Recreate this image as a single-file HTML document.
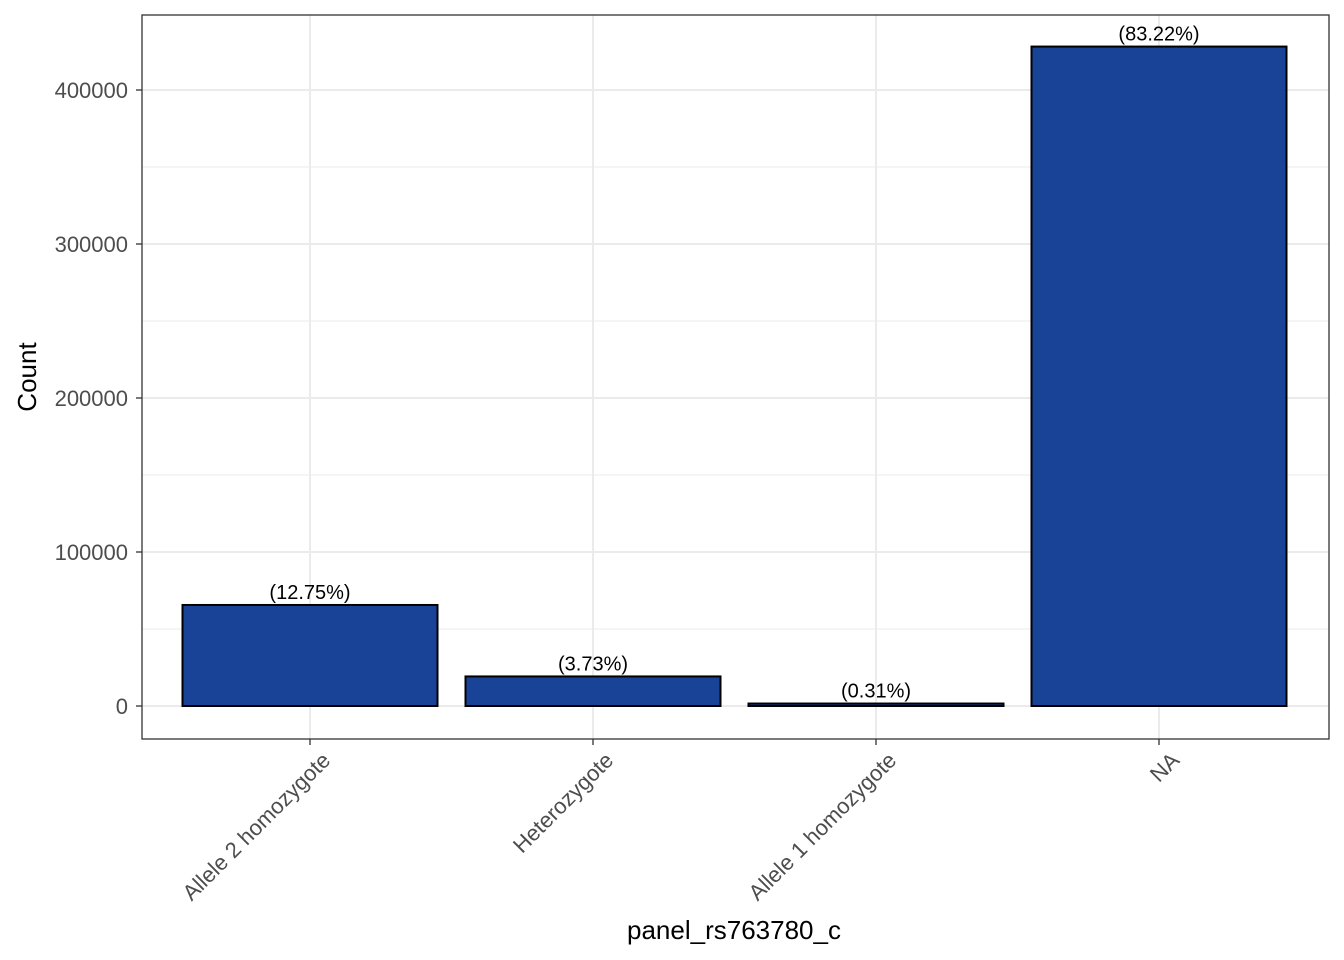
<!DOCTYPE html>
<html><head><meta charset="utf-8"><style>
body{margin:0;background:#fff}
svg{display:block;font-family:"Liberation Sans",sans-serif}
</style></head><body>
<svg id="chart" width="1344" height="960" viewBox="0 0 1344 960" xmlns="http://www.w3.org/2000/svg">
<rect x="0" y="0" width="1344" height="960" fill="#fff"/>
<g id="grid"></g>
<g id="bars"></g>
<rect x="142" y="15" width="1187" height="724" fill="none" stroke="#333" stroke-width="1.3"/>
<g id="axes"></g>
<text transform="translate(36,377) rotate(-90)" text-anchor="middle" font-size="26" fill="#000">Count</text>
<text x="734" y="939" text-anchor="middle" font-size="26" fill="#000">panel_rs763780_c</text>
</svg>
<script>
const categories = ["Allele 2 homozygote","Heterozygote","Allele 1 homozygote","NA"];
const counts = [65600, 19200, 1600, 428200];
const pctLabels = ["(12.75%)","(3.73%)","(0.31%)","(83.22%)"];
const yTicks = [0, 100000, 200000, 300000, 400000];
const yMinor = [50000, 150000, 250000, 350000];

const NS="http://www.w3.org/2000/svg";
const y = v => 706 - v * 154 / 100000;
const x = i => 310 + i * 283;
const bw = 255;
function mk(tag, attrs, parent){const e=document.createElementNS(NS,tag);for(const k in attrs)e.setAttribute(k,attrs[k]);parent.appendChild(e);return e;}
const grid=document.getElementById('grid'), bars=document.getElementById('bars'), axes=document.getElementById('axes');
yMinor.forEach(v=>{const l=mk('line',{x1:142,x2:1329,y1:y(v),y2:y(v),stroke:'#ebebeb','stroke-width':1},grid);

});
yTicks.forEach(v=>{const l=mk('line',{x1:142,x2:1329,y1:y(v),y2:y(v),stroke:'#ebebeb','stroke-width':2},grid);


const t=mk('line',{x1:136,x2:142,y1:y(v),y2:y(v),stroke:'#333','stroke-width':1.3},axes);


const tx=mk('text',{x:128,y:y(v)+8,'text-anchor':'end','font-size':22,fill:'#4d4d4d'},axes);
tx.textContent=String(v);

});
categories.forEach((c,i)=>{const g=mk('line',{x1:x(i),x2:x(i),y1:15,y2:739,stroke:'#ebebeb','stroke-width':2},grid);


const r=mk('rect',{x:x(i)-bw/2,y:y(counts[i]),width:bw,height:Math.max(y(0)-y(counts[i]),1),fill:'#184397',stroke:'#000','stroke-width':2},bars);


const lb=mk('text',{x:x(i),y:y(counts[i])-6,'text-anchor':'middle','font-size':20,fill:'#000'},bars);
lb.textContent=pctLabels[i];


const t=mk('line',{x1:x(i),x2:x(i),y1:739,y2:745,stroke:'#333','stroke-width':1.3},axes);


const tx=mk('text',{transform:`translate(${x(i)+10},750) rotate(-45)`,'text-anchor':'end',dy:'0.75em','font-size':22,fill:'#4d4d4d'},axes);
tx.textContent=c;

});
</script>
</body></html>
